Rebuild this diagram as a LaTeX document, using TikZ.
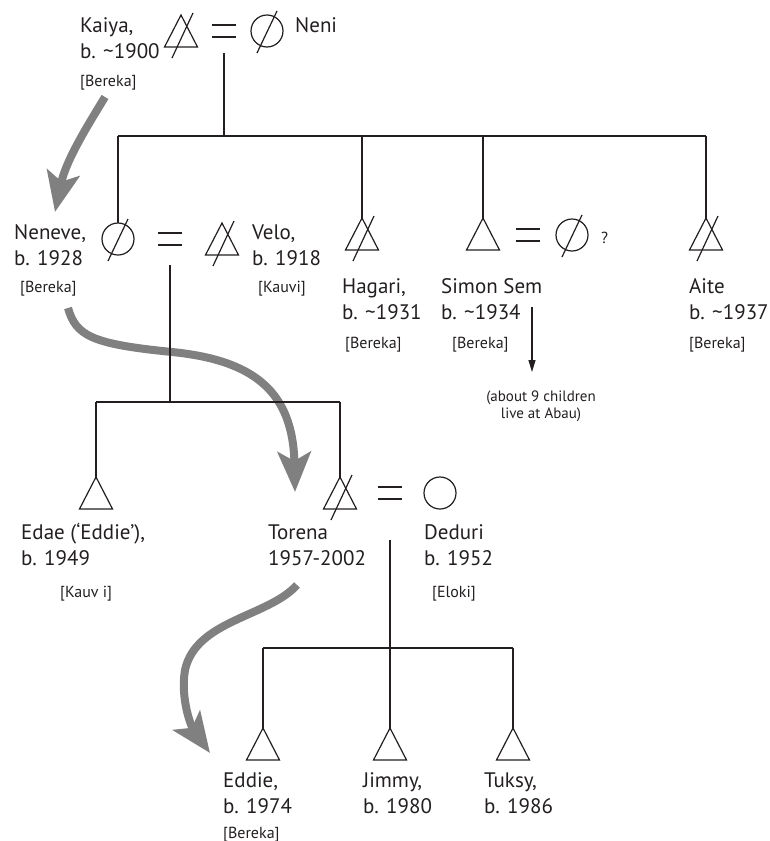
\documentclass[tikz,border=0pt]{standalone}
\usepackage{fontspec}
\setmainfont{PT Sans}
\usetikzlibrary{shapes.geometric,arrows.meta,calc}
\definecolor{lineagegray}{RGB}{128,128,128}
\definecolor{ink}{RGB}{35,31,32}

\tikzset{
  kin/.style={draw=ink, line width=1.2pt},
  male/.style={kin, isosceles triangle, shape border rotate=90,
    isosceles triangle stretches, minimum width=33pt, minimum height=32pt,
    inner sep=0pt, outer sep=0pt, anchor=apex},
  female/.style={kin, circle, minimum size=32pt, inner sep=0pt, outer sep=0pt},
  nametext/.style={anchor=base west, inner sep=0pt, text=ink, font=\fontsize{21}{25}\selectfont},
  tribetext/.style={anchor=base west, inner sep=0pt, text=ink, font=\fontsize{16}{19}\selectfont},
  notetext/.style={anchor=base, inner sep=0pt, text=ink, font=\fontsize{15}{18}\selectfont},
  lineage/.style={draw=lineagegray, line width=8pt,
    -{Stealth[length=40pt,width=33pt,inset=9pt]}},
  descent/.style={kin, -{Triangle[length=12pt,width=7pt]}},
}

% slash through a deceased person's symbol
\newcommand\deadmale[1]{\draw[kin] ($(#1.apex)+(12,-2)$) -- ($(#1.apex)+(-9,43)$);}
\newcommand\deadfemale[1]{\draw[kin] ($(#1.center)+(10,-20)$) -- ($(#1.center)+(-10,22)$);}
% marriage sign centred between two partners
\newcommand\wedlock[3]{%
  \coordinate (#1) at ($(#2)!0.5!(#3)$);
  \draw[kin] ($(#1)+(-12,-6)$) -- ++(24,0) ($(#1)+(-12,6)$) -- ++(24,0);}
% name and date, two lines
\newcommand\twolines[4]{%
  \node[nametext] (#1-1) at (#2) {#3};
  \node[nametext] (#1-2) at ($(#1-1.base west)+(0,26)$) {#4};}

\begin{document}
\begin{tikzpicture}[x=1pt,y=-1pt]
\useasboundingbox (0,0) rectangle (770,841);

% ---- lineage arrows (under the chart lines)
\coordinate (l1a) at (105,97);  \coordinate (l1b) at (55,212);
\draw[lineage] (l1a) .. controls (88,125) and (66,160) .. (l1b);
\coordinate (l2a) at (68,308);  \coordinate (l2b) at (295,492);
\draw[lineage] (l2a) .. controls (76,336) and (92,344) .. (172,352)
  .. controls (252,360) and (293,390) .. (l2b);
\coordinate (l3a) at (297,585); \coordinate (l3b) at (210,753);
\draw[lineage] (l3a) .. controls (268,617) and (196,620) .. (185,670)
  .. controls (180,700) and (192,728) .. (l3b);

% ---- generation I
\node[male] (kaiya) at (181,15) {};
\node[female] (neni) at (267,31) {};
\deadmale{kaiya} \deadfemale{neni}
\wedlock{m1}{kaiya.apex |- neni.center}{neni.center}

% ---- generation II
\node[female] (neneve) at (118,239) {};
\node[male] (velo) at (222,223) {};
\node[male] (hagari) at (362,218) {};
\node[male] (simon) at (483,218) {};
\node[female] (simonwife) at (572,235) {};
\node[male] (aite) at (706,218) {};
\deadfemale{neneve} \deadmale{velo} \deadmale{hagari}
\deadfemale{simonwife} \deadmale{aite}
\wedlock{m2}{neneve.center}{velo.apex |- neneve.center}
\wedlock{m3}{simon.apex |- simonwife.center}{simonwife.center}

\coordinate (bar1) at (0,136);
\coordinate (m1d) at ($(m1)+(0,22)$);
\draw[kin] (m1d) -- (m1 |- bar1);
\draw[kin] (neneve.north |- bar1) -- (aite.apex |- bar1);
\foreach \c in {neneve.north, hagari.apex, simon.apex, aite.apex}
  \draw[kin] (\c |- bar1) -- (\c);

% ---- generation III
\node[male] (edae) at (96,477) {};
\node[male] (torena) at (340,477) {};
\node[female] (deduri) at (440,493) {};
\deadmale{torena}
\wedlock{m4}{torena.apex |- deduri.center}{deduri.center}

\coordinate (bar2) at (0,402);
\coordinate (m2d) at ($(m2)+(0,26)$);
\draw[kin] (m2d) -- (m2 |- bar2);
\draw[kin] (edae.apex |- bar2) -- (torena.apex |- bar2);
\foreach \c in {edae.apex, torena.apex}
  \draw[kin] (\c |- bar2) -- (\c);

% ---- generation IV
\node[male] (eddie) at (263,728) {};
\node[male] (jimmy) at (m4 |- eddie.apex) {};
\node[male] (tuksy) at (513,728) {};

\coordinate (bar3) at (0,648);
\coordinate (m4d) at ($(m4)+(0,47)$);
\draw[kin] (m4d) -- (m4 |- bar3);
\draw[kin] (eddie.apex |- bar3) -- (tuksy.apex |- bar3);
\foreach \c in {eddie.apex, jimmy.apex, tuksy.apex}
  \draw[kin] (\c |- bar3) -- (\c);

% ---- Simon Sem's children
\coordinate (kidsFrom) at (532,307); \coordinate (kidsTo) at (532,372);
\draw[descent] (kidsFrom) -- (kidsTo);
\node[notetext] (noteA) at (541,401) {(about 9 children};
\node[notetext] (noteB) at (541,418) {live at Abau)};

% ---- names, dates and clans
\twolines{kaiyaT}{80,32}{Kaiya,}{b. \textasciitilde1900}
\node[tribetext] (kaiyaC) at (80,86) {[Bereka]};
\node[nametext] (neniT) at (295,32) {Neni};

\twolines{neneveT}{14,239}{Neneve,}{b. 1928}
\node[tribetext] (neneveC) at (20,292) {[Bereka]};
\twolines{veloT}{252,239}{Velo,}{b. 1918}
\node[tribetext] (veloC) at (258,292) {[Kauvi]};
\twolines{hagariT}{342,293}{Hagari,}{b. \textasciitilde1931}
\node[tribetext] (hagariC) at (345,348) {[Bereka]};
\twolines{simonT}{441,293}{Simon Sem}{b. \textasciitilde1934}
\node[tribetext] (simonC) at (452,348) {[Bereka]};
\node[tribetext] (qmark) at (601,243) {?};
\twolines{aiteT}{689,293}{Aite}{b. \textasciitilde1937}
\node[tribetext] (aiteC) at (689,348) {[Bereka]};

\twolines{edaeT}{21,539}{Edae (‘Eddie’),}{b. 1949}
\node[tribetext] (edaeC) at (60,597) {[Kauv i]};
\twolines{torenaT}{268,539}{Torena}{1957-2002}
\twolines{deduriT}{424,539}{Deduri}{b. 1952}
\node[tribetext] (deduriC) at (432,597) {[Eloki]};

\twolines{eddieT}{223,787}{Eddie,}{b. 1974}
\node[tribetext] (eddieC) at (223,838) {[Bereka]};
\twolines{jimmyT}{363,787}{Jimmy,}{b. 1980}
\twolines{tuksyT}{484,787}{Tuksy,}{b. 1986}
\end{tikzpicture}
\end{document}
